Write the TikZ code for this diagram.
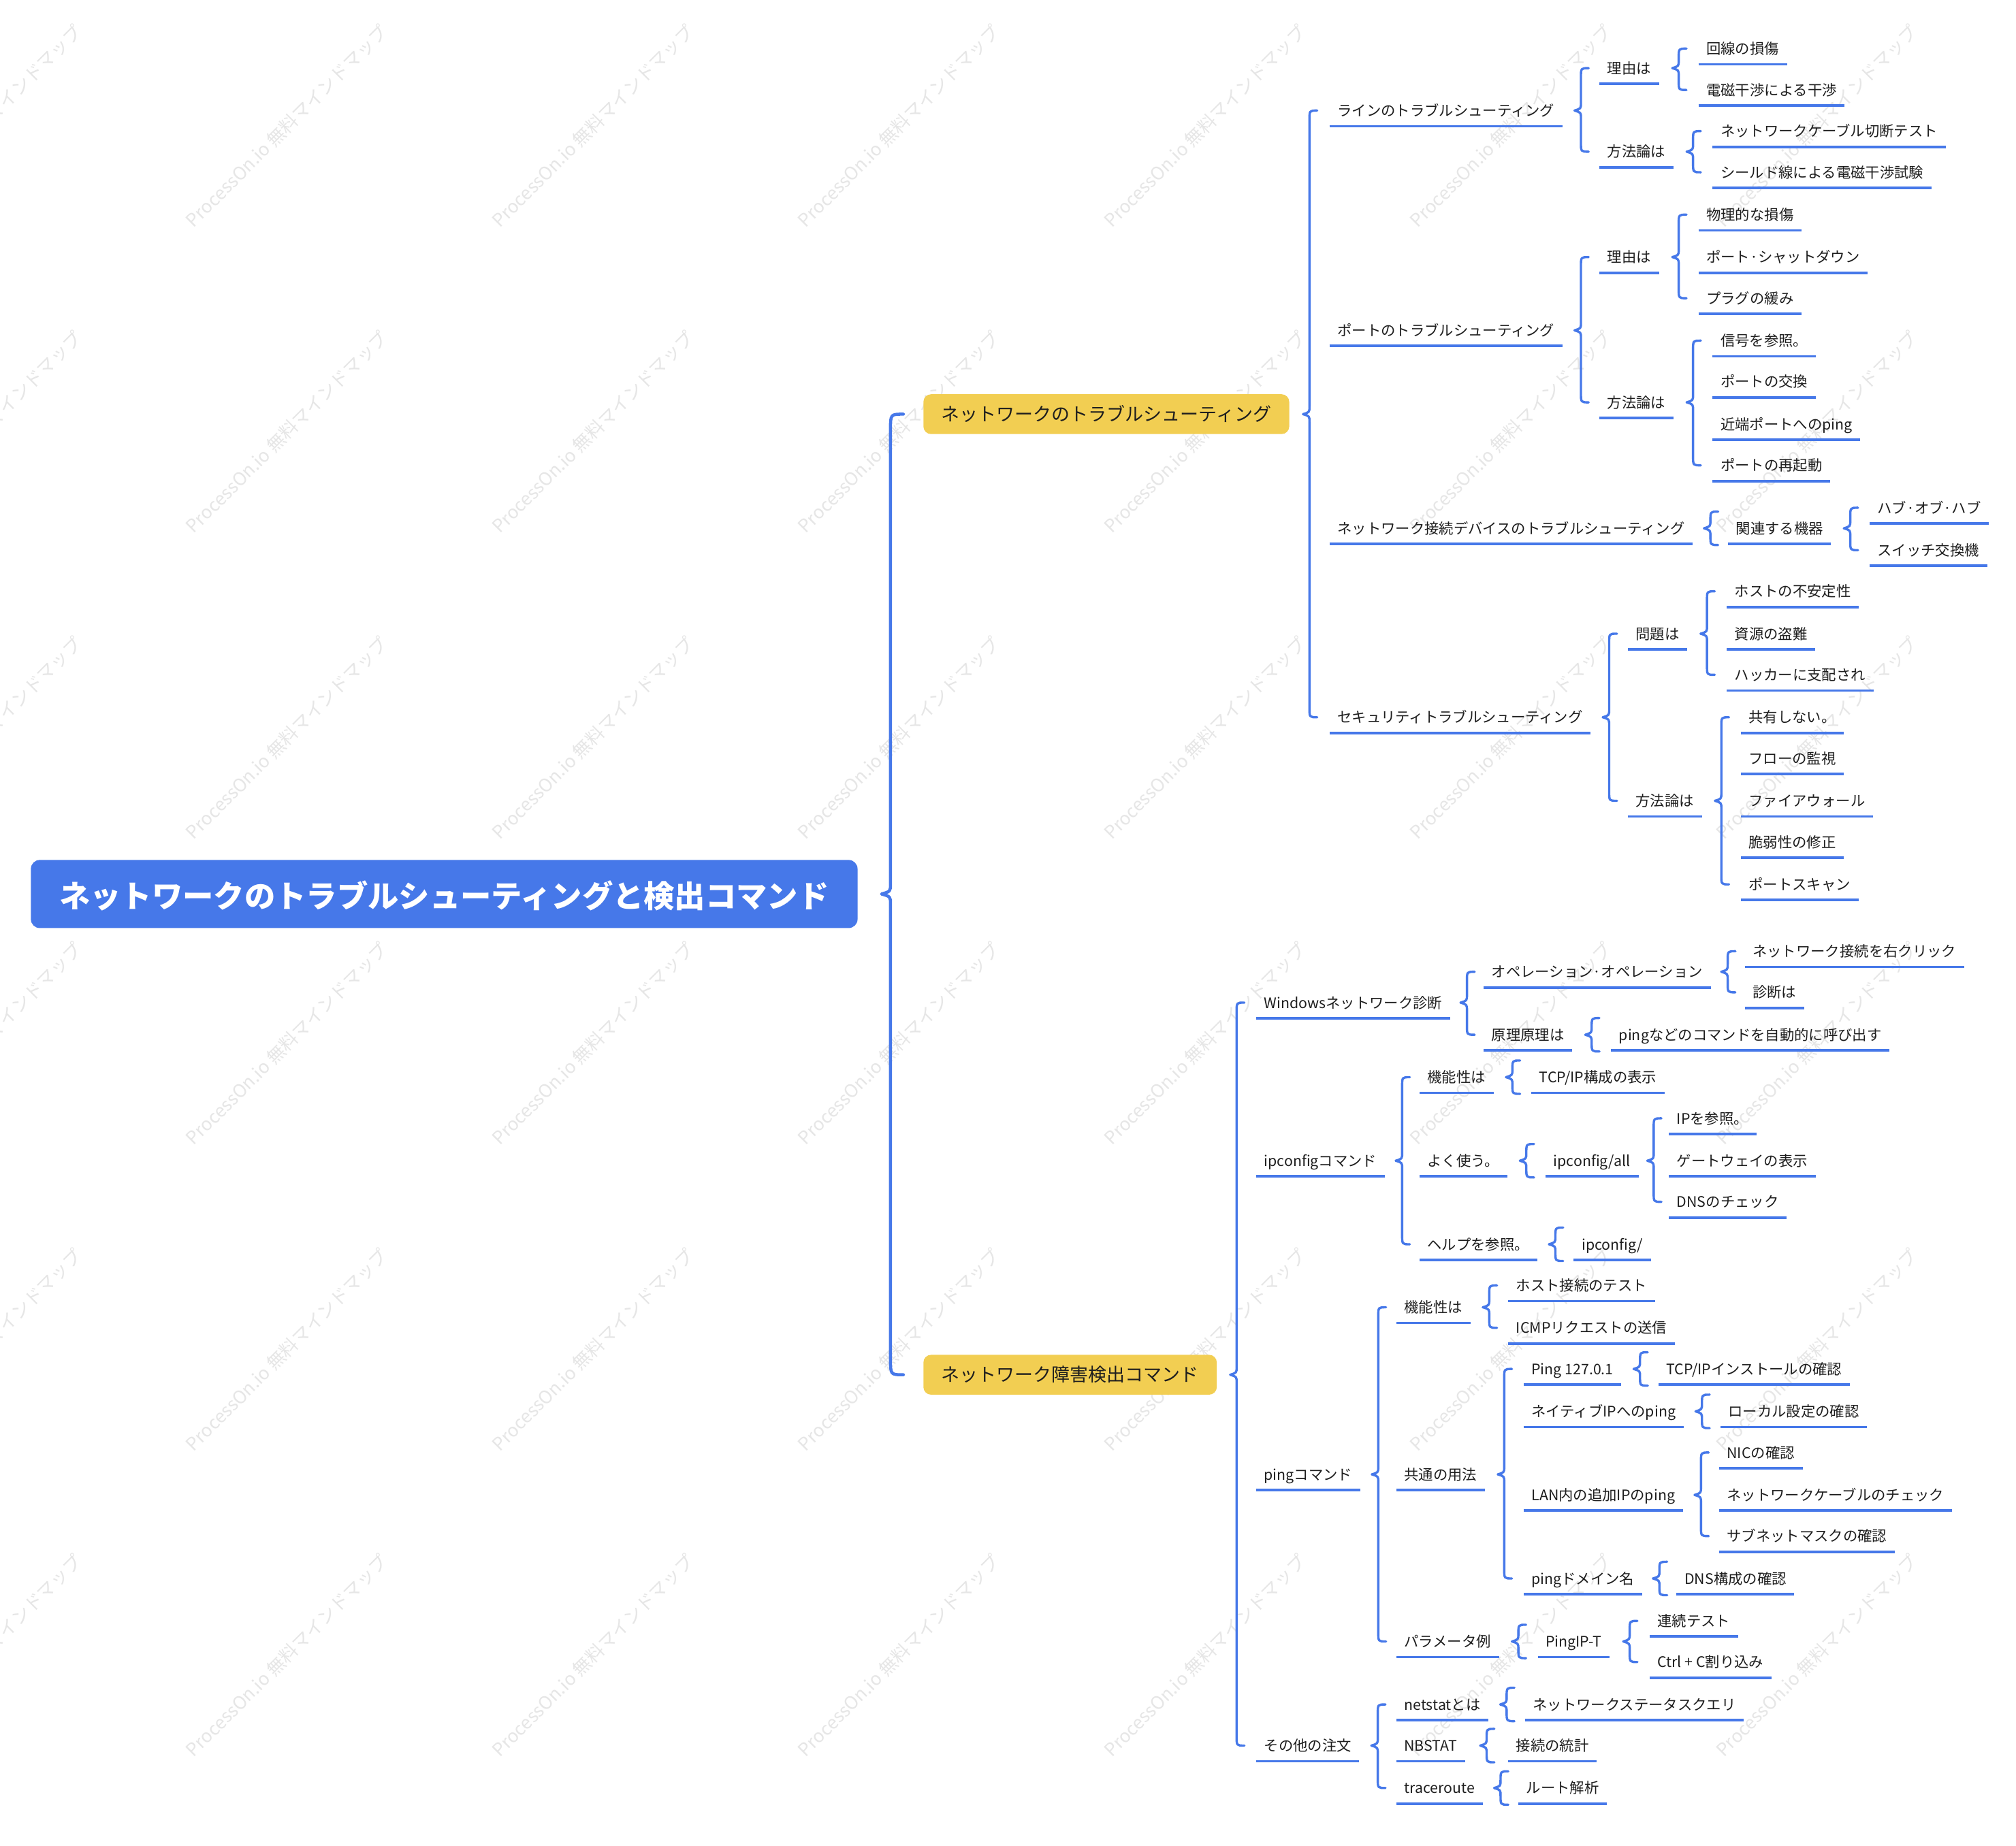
\documentclass[tikz,border=0pt]{standalone}
\usepackage{fontspec}
\setmainfont{Noto Sans CJK JP}
\usetikzlibrary{calc}
\definecolor{mblue}{RGB}{70,120,233}
\definecolor{myellow}{RGB}{242,206,82}
\definecolor{mtext}{RGB}{30,30,30}
\definecolor{wmc}{RGB}{230,230,230}
\newcommand\lf[4]{\node[lf] (#1) at (#2,-#3) {#4}; \draw[ul] (#1.south west) -- (#1.south east);}
\newcommand\brc[3]{%
  \draw[brl] let \p1=(#1.east), \p2=(#2.west), \p3=(#3.west), \p4=($(#1.east)!0.5!(#2.west)$) in
    (\x4+6pt,\y2) .. controls (\x4,\y2) .. (\x4,\y2-7pt) -- (\x4,\y1+6pt)
    .. controls (\x4,\y1+1.5pt) .. (\x4-5pt,\y1) .. controls (\x4,\y1-1.5pt) .. (\x4,\y1-6pt)
    -- (\x4,\y3+7pt) .. controls (\x4,\y3) .. (\x4+6pt,\y3);}
\newcommand\brs[2]{%
  \draw[brl] let \p1=(#1.east), \p2=(#2.west), \p4=($(#1.east)!0.5!(#2.west)$) in
    (\x4+6pt,\y2+13pt) .. controls (\x4,\y2+13pt) .. (\x4,\y2+6pt)
    .. controls (\x4,\y1+1.5pt) .. (\x4-5pt,\y1) .. controls (\x4,\y1-1.5pt) .. (\x4,\y2-6pt)
    .. controls (\x4,\y2-13pt) .. (\x4+6pt,\y2-13pt);}
\begin{document}
\begin{tikzpicture}[x=1pt,y=1pt,
  lf/.style={anchor=west, inner xsep=6pt, inner ysep=0pt, minimum height=24pt, text height=10pt, text depth=1.4pt, font=\fontsize{11.3}{13}\selectfont, text=mtext},
  ul/.style={draw=mblue, line width=2pt},
  brl/.style={draw=mblue, line width=1.8pt, line cap=round, line join=round},
  lone/.style={anchor=west, fill=myellow, rounded corners=6pt, inner xsep=14pt, inner ysep=0pt, minimum height=31pt, text height=12pt, text depth=1.2pt, font=\fontsize{14.3}{16}\selectfont, text=mtext},
  rootn/.style={fill=mblue, rounded corners=7pt, minimum width=643pt, minimum height=53pt, inner sep=0pt, text height=24pt, text depth=3pt, text=white, font=\fontsize{24}{28}\selectfont\bfseries},
  wmark/.style={rotate=45, text=wmc, font=\fontsize{14}{16}\selectfont}
]
\useasboundingbox (0,0) rectangle (1568,-1436);
\fill[white] (0,0) rectangle (1568,-1436);
% watermarks
\foreach \i in {-1,...,5} \foreach \j in {0,...,5} {
  \node[wmark] (wm\i\j) at ({223+238*\i},{-98-238*\j}) {ProcessOn.io 無料マインドマップ};
}
% root and level 1
\node[rootn] (root) at (345.5,-695.5) {ネットワークのトラブルシューティングと検出コマンド};
\node[lone] (t1) at (718,-322.2) {ネットワークのトラブルシューティング};
\node[lone] (t2) at (718,-1069.5) {ネットワーク障害検出コマンド};
\draw[brl, line width=2.4pt] let \p1=(root.east), \p2=(t1.west), \p3=(t2.west), \p4=($(root.east)!0.5!(t1.west)$) in
  (\x4+10pt,\y2) .. controls (\x4,\y2) .. (\x4,\y2-12pt) -- (\x4,\y1+8pt)
  .. controls (\x4,\y1+2pt) .. (\x4-7pt,\y1) .. controls (\x4,\y1-2pt) .. (\x4,\y1-8pt)
  -- (\x4,\y3+12pt) .. controls (\x4,\y3) .. (\x4+10pt,\y3);
% top branch
\lf{a}{1034}{86}{ラインのトラブルシューティング}
\lf{a1}{1244}{53}{理由は}
\lf{a11}{1321}{37.8}{回線の損傷}
\lf{a12}{1321}{70}{電磁干渉による干渉}
\lf{a2}{1244}{118}{方法論は}
\lf{a21}{1332}{102}{ネットワークケーブル切断テスト}
\lf{a22}{1332}{134}{シールド線による電磁干渉試験}
\lf{b}{1034}{257}{ポートのトラブルシューティング}
\lf{b1}{1244}{200}{理由は}
\lf{b11}{1321}{167}{物理的な損傷}
\lf{b12}{1321}{200}{ポート·シャットダウン}
\lf{b13}{1321}{232}{プラグの緩み}
\lf{b2}{1244}{313}{方法論は}
\lf{b21}{1332}{265}{信号を参照。}
\lf{b22}{1332}{297}{ポートの交換}
\lf{b23}{1332}{330}{近端ポートへのping}
\lf{b24}{1332}{362}{ポートの再起動}
\lf{c}{1034}{411}{ネットワーク接続デバイスのトラブルシューティング}
\lf{c1}{1344}{411}{関連する機器}
\lf{c11}{1454}{395}{ハブ·オブ·ハブ}
\lf{c12}{1454}{428}{スイッチ交換機}
\lf{d}{1034}{558}{セキュリティトラブルシューティング}
\lf{d1}{1266}{493}{問題は}
\lf{d11}{1343}{460}{ホストの不安定性}
\lf{d12}{1343}{493}{資源の盗難}
\lf{d13}{1343}{525}{ハッカーに支配され}
\lf{d2}{1266}{623}{方法論は}
\lf{d21}{1354}{558}{共有しない。}
\lf{d22}{1354}{590}{フローの監視}
\lf{d23}{1354}{623}{ファイアウォール}
\lf{d24}{1354}{655}{脆弱性の修正}
\lf{d25}{1354}{688}{ポートスキャン}
% bottom branch
\lf{e}{977}{780}{Windowsネットワーク診断}
\lf{e1}{1154}{756}{オペレーション·オペレーション}
\lf{e11}{1357}{740}{ネットワーク接続を右クリック}
\lf{e12}{1357}{772}{診断は}
\lf{e2}{1154}{805}{原理原理は}
\lf{e21}{1253}{805}{pingなどのコマンドを自動的に呼び出す}
\lf{f}{977}{903}{ipconfigコマンド}
\lf{f1}{1104}{838}{機能性は}
\lf{f11}{1191}{838}{TCP/IP構成の表示}
\lf{f2}{1104}{903}{よく使う。}
\lf{f21}{1202}{903}{ipconfig/all}
\lf{f211}{1298}{870}{IPを参照。}
\lf{f212}{1298}{903}{ゲートウェイの表示}
\lf{f213}{1298}{935}{DNSのチェック}
\lf{f3}{1104}{968}{ヘルプを参照。}
\lf{f31}{1224}{968}{ipconfig/}
\lf{g}{977}{1147}{pingコマンド}
\lf{g1}{1086}{1017}{機能性は}
\lf{g11}{1173}{1000}{ホスト接続のテスト}
\lf{g12}{1173}{1033}{ICMPリクエストの送信}
\lf{g2}{1086}{1147}{共通の用法}
\lf{g21}{1185}{1065}{Ping 127.0.1}
\lf{g211}{1290}{1065}{TCP/IPインストールの確認}
\lf{g22}{1185}{1098}{ネイティブIPへのping}
\lf{g221}{1338}{1098}{ローカル設定の確認}
\lf{g23}{1185}{1163}{LAN内の追加IPのping}
\lf{g231}{1337}{1130}{NICの確認}
\lf{g232}{1337}{1163}{ネットワークケーブルのチェック}
\lf{g233}{1337}{1195}{サブネットマスクの確認}
\lf{g24}{1185}{1228}{pingドメイン名}
\lf{g241}{1304}{1228}{DNS構成の確認}
\lf{g3}{1086}{1277}{パラメータ例}
\lf{g31}{1196}{1277}{PingIP-T}
\lf{g311}{1283}{1261}{連続テスト}
\lf{g312}{1283}{1293}{Ctrl + C割り込み}
\lf{h}{977}{1358}{その他の注文}
\lf{h1}{1086}{1326}{netstatとは}
\lf{h11}{1186}{1326}{ネットワークステータスクエリ}
\lf{h2}{1086}{1358}{NBSTAT}
\lf{h21}{1173}{1358}{接続の統計}
\lf{h3}{1086}{1391}{traceroute}
\lf{h31}{1181}{1391}{ルート解析}
% braces
\brc{t1}{a}{d}
\brc{a}{a1}{a2}
\brc{a1}{a11}{a12}
\brc{a2}{a21}{a22}
\brc{b}{b1}{b2}
\brc{b1}{b11}{b13}
\brc{b2}{b21}{b24}
\brs{c}{c1}
\brc{c1}{c11}{c12}
\brc{d}{d1}{d2}
\brc{d1}{d11}{d13}
\brc{d2}{d21}{d25}
\brc{t2}{e}{h}
\brc{e}{e1}{e2}
\brc{e1}{e11}{e12}
\brs{e2}{e21}
\brc{f}{f1}{f3}
\brs{f1}{f11}
\brs{f2}{f21}
\brc{f21}{f211}{f213}
\brs{f3}{f31}
\brc{g}{g1}{g3}
\brc{g1}{g11}{g12}
\brc{g2}{g21}{g24}
\brs{g21}{g211}
\brs{g22}{g221}
\brc{g23}{g231}{g233}
\brs{g24}{g241}
\brs{g3}{g31}
\brc{g31}{g311}{g312}
\brc{h}{h1}{h3}
\brs{h1}{h11}
\brs{h2}{h21}
\brs{h3}{h31}
\end{tikzpicture}
\end{document}
